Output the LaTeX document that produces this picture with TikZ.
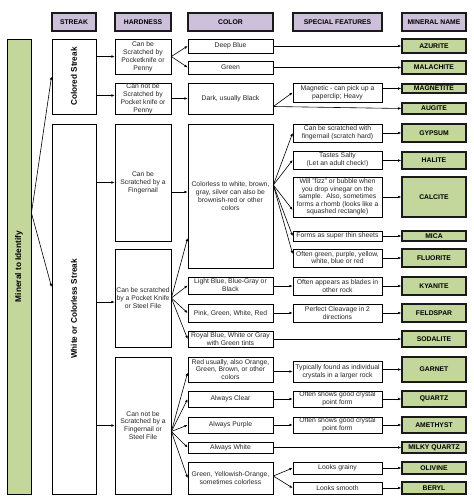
\documentclass[tikz,border=0pt]{standalone}
\usepackage{fontspec}
\setmainfont{Liberation Sans}
\usepackage{graphicx}
\usetikzlibrary{arrows.meta}
\definecolor{hdrfill}{HTML}{CCC0DA}
\definecolor{minfill}{HTML}{C3D69B}
\definecolor{edgecol}{HTML}{1A1A1A}
\definecolor{txtcol}{HTML}{262626}
\tikzset{
  base/.style={draw=black, line width=0.7pt, inner sep=0.5pt, align=center,
    font=\fontsize{6.8}{7.9}\selectfont, text=txtcol},
  plainbox/.style={base, fill=white},
  tightbox/.style={base, fill=white, font=\fontsize{6.8}{7.6}\selectfont},
  hdr/.style={base, fill=hdrfill, line width=1.3pt, draw=edgecol,
    font=\fontsize{6.8}{7.9}\selectfont\bfseries, text=black},
  minbox/.style={base, fill=minfill, line width=1.3pt, draw=edgecol,
    font=\fontsize{6.8}{7.9}\selectfont\bfseries, text=black},
  streak/.style={base, fill=white, line width=0.9pt,
    font=\fontsize{8.2}{9}\selectfont\bfseries, text=black},
  root/.style={base, fill=minfill, line width=0.9pt,
    font=\fontsize{8.3}{9}\selectfont\bfseries, text=black},
  arr/.style={-{Latex[length=3.2pt,width=2.6pt]}, line width=0.6pt, black},
}
\newcommand\bx[7]{\node[#6, minimum width={(#4-#2)*1pt}, minimum height={(#5-#3)*1pt}] (#1) at ({(#2+#4)/2},{-(#3+#5)/2}) {#7};}
\begin{document}
\begin{tikzpicture}[x=1pt,y=1pt]
\fill[white] (0,0) rectangle (474,-501);
\useasboundingbox (0,0) rectangle (474,-501);
% headers
\bx{hs}{52}{13}{96}{31}{hdr}{STREAK}
\bx{hh}{115}{13}{171}{31}{hdr}{HARDNESS}
\bx{hc}{188}{13}{273}{31}{hdr}{COLOR}
\bx{hf}{293}{13}{382}{31}{hdr}{SPECIAL FEATURES}
\bx{hm}{402}{13}{466}{31}{hdr}{MINERAL NAME}
% root and streak
\bx{root}{7}{39}{31}{494}{root}{\rotatebox{90}{Mineral to Identify}}
\bx{cs}{52}{39}{96}{114}{streak}{\rotatebox{90}{Colored Streak}}
\bx{ws}{52}{124}{96}{494}{streak}{\rotatebox{90}{White or Colorless Streak}}
% hardness
\bx{h1}{115}{39}{171}{74}{plainbox}{Can be\\Scratched by\\Pocketknife or\\Penny}
\bx{h2}{115}{83}{171}{114}{plainbox}{Can not be\\Scratched by\\Pocket knife or\\Penny}
\bx{h3}{115}{124}{171}{241}{plainbox}{Can be\\Scratched by a\\Fingernail}
\bx{h4}{115}{249}{171}{347}{plainbox}{Can be scratched\\by a Pocket Knife\\or Steel File}
\bx{h5}{115}{357}{171}{494}{plainbox}{Can not be\\Scratched by a\\Fingernail or\\Steel File}
% color
\bx{c1}{188}{39}{273}{53}{plainbox}{Deep Blue}
\bx{c2}{188}{61}{273}{74}{plainbox}{Green}
\bx{c3}{188}{83}{273}{114}{plainbox}{Dark, usually Black}
\bx{c4}{188}{124}{273}{268}{plainbox}{Colorless to white, brown,\\gray, silver can also be\\brownish-red or other\\colors}
\bx{c5}{188}{277}{273}{294}{plainbox}{Light Blue, Blue-Gray or\\Black}
\bx{c6}{188}{304}{273}{322}{plainbox}{Pink, Green, White, Red}
\bx{c7}{188}{331}{273}{347}{plainbox}{Royal Blue, White or Gray\\with Green tints}
\bx{c8}{188}{357}{273}{382}{plainbox}{Red usually, also Orange,\\Green, Brown, or other\\colors}
\bx{c9}{188}{391}{273}{407}{plainbox}{Always Clear}
\bx{c10}{188}{417}{273}{433}{plainbox}{Always Purple}
\bx{c11}{188}{442}{273}{453}{plainbox}{Always White}
\bx{c12}{188}{462}{273}{494}{plainbox}{Green, Yellowish-Orange,\\sometimes colorless}
% special features
\bx{f1}{293}{83}{382}{102}{plainbox}{Magnetic - can pick up a\\paperclip; Heavy}
\bx{f2}{293}{124}{382}{142}{plainbox}{Can be scratched with\\fingernail (scratch hard)}
\bx{f3}{293}{151}{382}{169}{plainbox}{Tastes Salty\\(Let an adult check!)}
\bx{f4}{293}{177}{382}{217}{tightbox}{Will "fizz" or bubble when\\you drop vinegar on the\\sample.\ \ Also, sometimes\\forms a rhomb (looks like a\\squashed rectangle)}
\bx{f5}{293}{231}{382}{241}{plainbox}{Forms as super thin sheets}
\bx{f6}{293}{249}{382}{267}{plainbox}{Often green, purple, yellow,\\white, blue or red}
\bx{f7}{293}{277}{382}{295}{plainbox}{Often appears as blades in\\other rock}
\bx{f8}{293}{304}{382}{322}{plainbox}{Perfect Cleavage in 2\\directions}
\bx{f9}{293}{361}{382}{382}{plainbox}{Typically found as individual\\crystals in a larger rock}
\bx{f10}{293}{391}{382}{407}{plainbox}{Often shows good crystal\\point form}
\bx{f11}{293}{417}{382}{433}{plainbox}{Often shows good crystal\\point form}
\bx{f12}{293}{462}{382}{474}{plainbox}{Looks grainy}
\bx{f13}{293}{482}{382}{494}{plainbox}{Looks smooth}
% mineral names
\bx{m1}{402}{39}{466}{53}{minbox}{AZURITE}
\bx{m2}{402}{61}{466}{74}{minbox}{MALACHITE}
\bx{m3}{402}{84}{466}{93}{minbox}{MAGNETITE}
\bx{m4}{402}{103}{466}{114}{minbox}{AUGITE}
\bx{m5}{402}{124}{466}{142}{minbox}{GYPSUM}
\bx{m6}{402}{152}{466}{169}{minbox}{HALITE}
\bx{m7}{402}{177}{466}{217}{minbox}{CALCITE}
\bx{m8}{402}{231}{466}{241}{minbox}{MICA}
\bx{m9}{402}{249}{466}{267}{minbox}{FLUORITE}
\bx{m10}{402}{277}{466}{295}{minbox}{KYANITE}
\bx{m11}{402}{304}{466}{322}{minbox}{FELDSPAR}
\bx{m12}{402}{331}{466}{347}{minbox}{SODALITE}
\bx{m13}{402}{357}{466}{382}{minbox}{GARNET}
\bx{m14}{402}{391}{466}{407}{minbox}{QUARTZ}
\bx{m15}{402}{417}{466}{433}{minbox}{AMETHYST}
\bx{m16}{402}{442}{466}{453}{minbox}{MILKY QUARTZ}
\bx{m17}{402}{462}{466}{474}{minbox}{OLIVINE}
\bx{m18}{402}{482}{466}{494}{minbox}{BERYL}
% connectors: root to streak
\draw[arr] ([yshift=53.5]root.east) -- (cs.west);
\draw[arr] ([yshift=53.5]root.east) -- ([yshift=22]ws.west);
% streak to hardness
\draw[arr] (h1.west -| cs.east) -- (h1.west);
\draw[arr] ([yshift=3]h2.west -| cs.east) -- ([yshift=3]h2.west);
\draw[arr] (h3.west -| ws.east) -- (h3.west);
\draw[arr] ([yshift=-4]h4.west -| ws.east) -- ([yshift=-4]h4.west);
\draw[arr] (h5.west -| ws.east) -- (h5.west);
% hardness to color
\draw[arr] (h1.east) -- (c1.west);
\draw[arr] (h1.east) -- (c2.west);
\draw[arr] (h2.east) -- (c3.west);
\draw[arr] ([yshift=4]c4.west -| h3.east) -- ([yshift=4]c4.west);
\draw[arr] (h4.east) -- ([yshift=-42]c4.west);
\draw[arr] (h4.east) -- (c5.west);
\draw[arr] (h4.east) -- (c6.west);
\draw[arr] (h4.east) -- (c7.west);
\draw[arr] ([yshift=-6]h5.east) -- ([yshift=-3]c8.west);
\draw[arr] ([yshift=-6]h5.east) -- (c9.west);
\draw[arr] ([yshift=-6]h5.east) -- (c10.west);
\draw[arr] ([yshift=-6]h5.east) -- (c11.west);
\draw[arr] ([yshift=-6]h5.east) -- (c12.west);
% color to features / names
\draw[arr] (c1.east) -- (m1.west);
\draw[arr] (c2.east) -- (m2.west);
\draw[arr] ([yshift=-8]c3.east) -- (f1.west);
\draw[arr] ([yshift=-8]c3.east) -- (m4.west);
\draw[arr] (m3.west -| f1.east) -- (m3.west);
\draw[arr] ([yshift=11]c4.east) -- (f2.west);
\draw[arr] ([yshift=11]c4.east) -- (f3.west);
\draw[arr] ([yshift=11]c4.east) -- ([yshift=-13]f4.west);
\draw[arr] ([yshift=11]c4.east) -- (f5.west);
\draw[arr] ([yshift=11]c4.east) -- ([yshift=4]f6.west);
\draw[arr] (m5.west -| f2.east) -- (m5.west);
\draw[arr] (m6.west -| f3.east) -- (m6.west);
\draw[arr] (m7.west -| f4.east) -- (m7.west);
\draw[arr] (m8.west -| f5.east) -- (m8.west);
\draw[arr] (m9.west -| f6.east) -- (m9.west);
\draw[arr] (f7.west -| c5.east) -- (f7.west);
\draw[arr] (m10.west -| f7.east) -- (m10.west);
\draw[arr] (f8.west -| c6.east) -- (f8.west);
\draw[arr] (m11.west -| f8.east) -- (m11.west);
\draw[arr] (m12.west -| c7.east) -- (m12.west);
\draw[arr] (f9.west -| c8.east) -- (f9.west);
\draw[arr] (m13.west -| f9.east) -- (m13.west);
\draw[arr] (f10.west -| c9.east) -- (f10.west);
\draw[arr] (m14.west -| f10.east) -- (m14.west);
\draw[arr] (f11.west -| c10.east) -- (f11.west);
\draw[arr] (m15.west -| f11.east) -- (m15.west);
\draw[arr] (m16.west -| c11.east) -- (m16.west);
\draw[arr] ([yshift=2]c12.east) -- (f12.west);
\draw[arr] ([yshift=2]c12.east) -- (f13.west);
\draw[arr] (m17.west -| f12.east) -- (m17.west);
\draw[arr] (m18.west -| f13.east) -- (m18.west);
\end{tikzpicture}
\end{document}
